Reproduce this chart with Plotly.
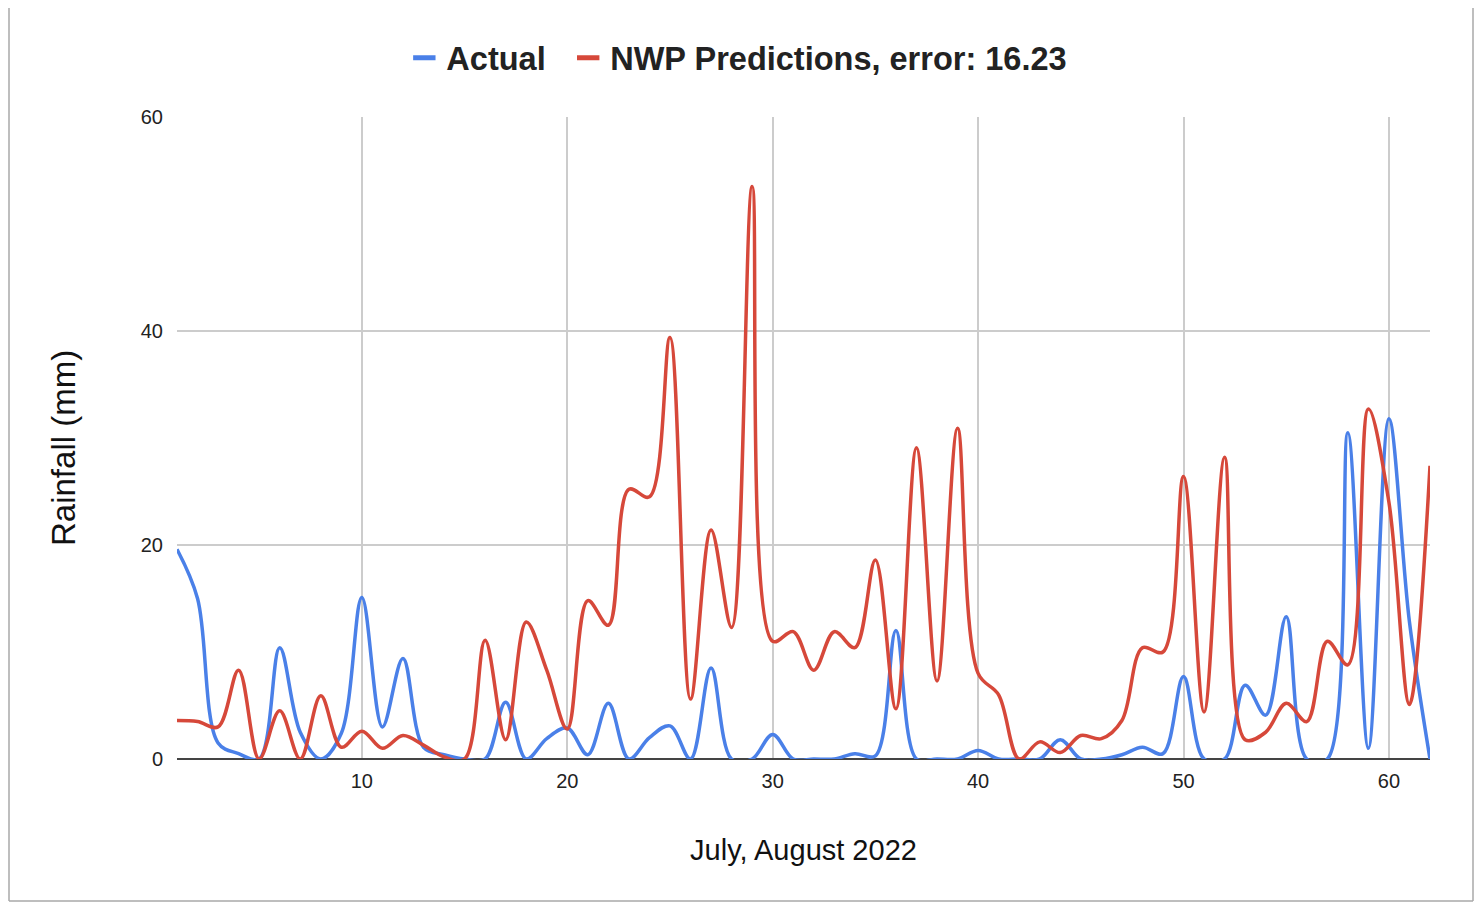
import plotly.graph_objects as go

# day index across July-August 2022
days = list(range(1, 63))

actual = [19.6, 15.0, 1.5, 0.5, 0.0, 10.4, 2.5, 0.0, 2.4, 15.1,
          3.0, 9.4, 1.1, 0.4, 0.0, 0.0, 5.3, 0.0, 1.9, 2.9,
          0.4, 5.2, 0.0, 2.0, 3.1, 0.0, 8.5, 0.0, 0.0, 2.3,
          0.0, 0.0, 0.0, 0.5, 0.3, 12.0, 0.0, 0.0, 0.0, 0.8,
          0.0, 0.0, 0.0, 1.8, 0.0, 0.0, 0.4, 1.1, 0.5, 7.7,
          0.0, 0.0, 6.9, 4.1, 13.3, 0.0, 0.0, 30.5, 1.0, 31.8,
          12.8, 0.0]

# NWP model predictions (mm)
nwp = [3.6, 3.5, 3.0, 8.3, 0.0, 4.5, 0.0, 5.9, 1.1, 2.6,
       1.0, 2.2, 1.3, 0.2, 0.0, 11.1, 1.8, 12.8, 8.3, 2.8,
       14.8, 12.5, 25.2, 24.5, 39.4, 5.6, 21.4, 12.3, 53.5, 11.0,
       11.9, 8.3, 11.9, 10.4, 18.6, 4.7, 29.1, 7.3, 30.9, 8.0,
       6.0, 0.0, 1.6, 0.6, 2.2, 1.9, 3.6, 10.4, 10.0, 26.4,
       4.4, 28.2, 1.8, 2.5, 5.2, 3.5, 11.0, 8.8, 32.7, 24.0,
       5.1, 27.4]

# trailing nbsp/thin space widens the gap between legend entries
names = ['Actual\u00a0\u2009', 'NWP Predictions, error: 16.23']
colors = ['#4a80e8', '#d6483a']
FONT = 'Liberation Sans, Arial, sans-serif'

fig = go.Figure()
for name, vals, col in zip(names, [actual, nwp], colors):
    fig.add_trace(go.Scatter(x=days, y=vals, mode='lines', name=name,
                             line=dict(color=col, width=3.5, shape='spline', smoothing=1),
                             showlegend=False, hoverinfo='skip'))
    # legend entry drawn as short thick dash like the sheets chart
    fig.add_trace(go.Scatter(x=[None], y=[None], mode='markers', name=name,
                             marker=dict(symbol='line-ew-open', size=21, color=col,
                                         line=dict(color=col, width=7))))

# page body has an 8px margin: keep the figure inside the window
FW, FH = 1466, 894
fig.update_layout(
    width=FW, height=FH,
    margin=dict(l=169, r=44, t=109, b=143),
    paper_bgcolor='white', plot_bgcolor='white',
    font=dict(family=FONT, color='#222222'),
    legend=dict(orientation='h', xref='container', yref='container',
                x=0.4975, xanchor='center', y=0.944, yanchor='middle',
                font=dict(size=32.5, family=FONT, color='#222222', weight='bold'),
                itemwidth=34, tracegroupgap=0),
    showlegend=True,
)

fig.update_xaxes(range=[1, 62], tickvals=[10, 20, 30, 40, 50, 60],
                 showgrid=True, gridcolor='#cccccc', gridwidth=1.5,
                 zeroline=False, showline=False, ticks='', ticklabelstandoff=8,
                 tickfont=dict(size=20, color='#222222'),
                 title=dict(text='July, August 2022', font=dict(size=29, color='#111111'),
                            standoff=48))
fig.update_yaxes(range=[0, 60], tickvals=[0, 20, 40, 60],
                 showgrid=True, gridcolor='#cccccc', gridwidth=1.5,
                 zeroline=True, zerolinecolor='#444444', zerolinewidth=2,
                 showline=False, ticks='', ticklabelstandoff=13,
                 tickfont=dict(size=20, color='#222222'))

# y title placed as an annotation (sits a little below the plot centre)
W, H = 1253.0, 642.0
fig.add_annotation(text='Rainfall (mm)', textangle=-90, showarrow=False,
                   xref='paper', yref='paper', x=(63 - 177) / W, y=(759 - 448) / H,
                   xanchor='center', yanchor='middle',
                   font=dict(size=33, family=FONT, color='#111111'))

# chart border from the spreadsheet (left, right, bottom)
bx0, bx1, by0 = (9 - 177) / W, (1473 - 177) / W, (759 - 901) / H
for x0, y0, x1, y1 in [(bx0, by0, bx0, 1.2), (bx1, by0, bx1, 1.2), (bx0, by0, bx1, by0)]:
    fig.add_shape(type='line', xref='paper', yref='paper', x0=x0, y0=y0, x1=x1, y1=y1,
                  line=dict(color='#a8a8a8', width=1.5), layer='below')

fig.write_html('out.html')
